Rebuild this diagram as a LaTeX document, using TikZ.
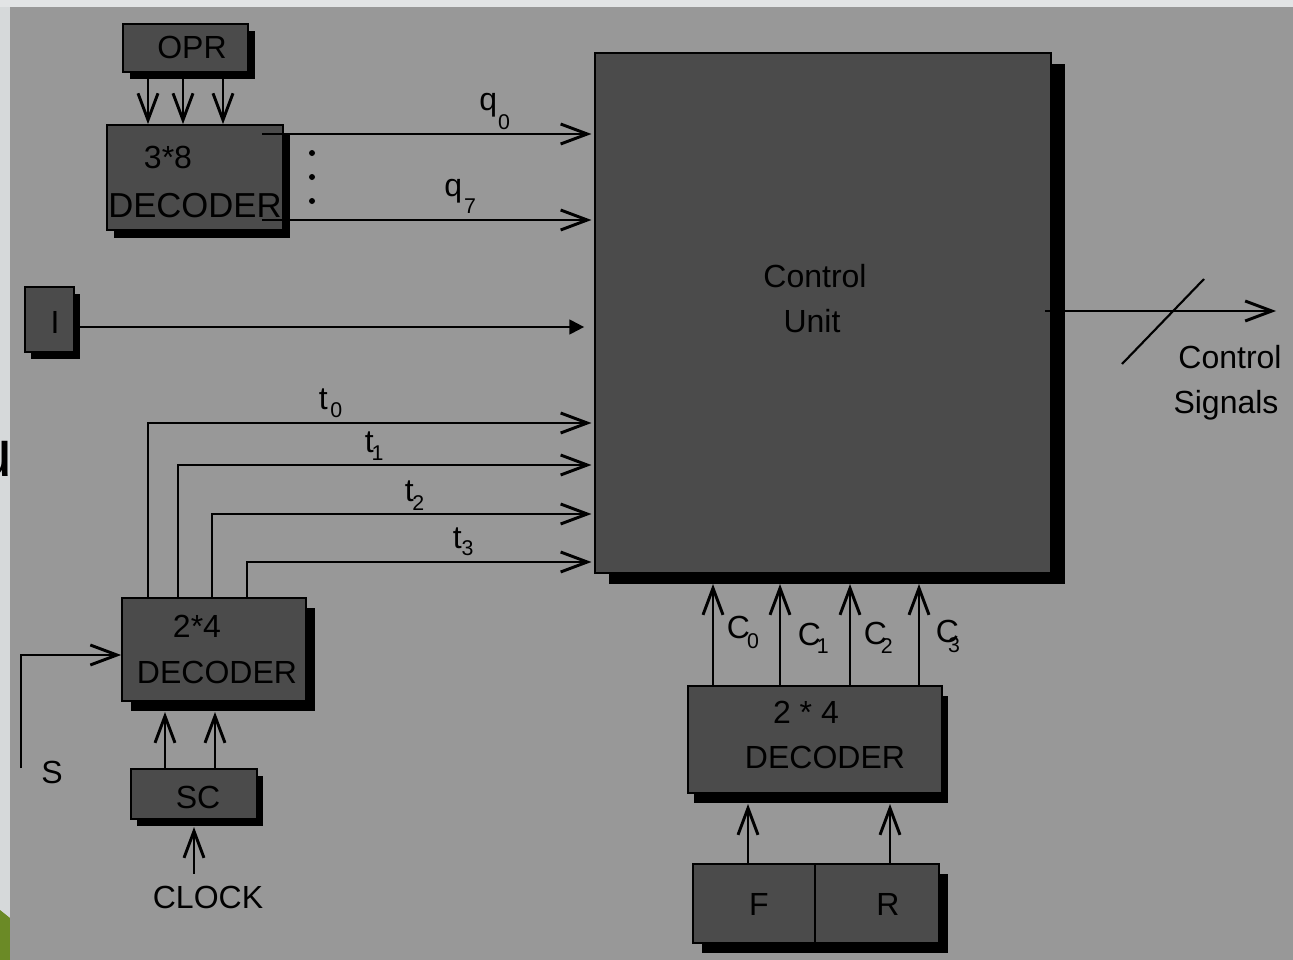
\documentclass[tikz,border=0pt]{standalone}
\usepackage{fontspec}
\setmainfont{Liberation Sans}
\usetikzlibrary{arrows.meta,shadows,fit}
\definecolor{bggray}{HTML}{989898}
\definecolor{boxgray}{HTML}{4B4B4B}
\definecolor{stripgray}{HTML}{D6D9DA}
\definecolor{topgray}{HTML}{E2E4E5}
\definecolor{leafgreen}{HTML}{6B8A26}
\newcommand\dsub[3]{\kern#2\raisebox{-#1}{\fontsize{16}{16}\selectfont #3}}
\begin{document}
\begin{tikzpicture}[x=0.75pt,y=-0.75pt,
  txt/.style={font=\fontsize{24}{28}\selectfont, inner sep=0pt, text=black},
  blk/.style={draw=black, line width=1.3pt, fill=boxgray, inner sep=0pt},
  shd/.style 2 args={drop shadow={shadow xshift=#1, shadow yshift=-#2, fill=black, opacity=1, draw=none}},
  wire/.style={line width=1.6pt, draw=black},
  barb/.style={wire, -{Straight Barb[length=20pt,width=15pt,line width=2.2pt]}},
  tri/.style={wire, -{Triangle[length=11pt,width=11pt]}},
]
\useasboundingbox (0,0) rectangle (1293,960);
% background
\fill[topgray] (0,0) rectangle (1293,960);
\fill[stripgray] (0,7) rectangle (10,960);
\fill[leafgreen] (0,910) -- (10,918) -- (10,960) -- (0,960) -- cycle;
\node[txt, font=\fontsize{50}{50}\selectfont, anchor=base east] (ufrag) at (13,476) {u};
\fill[bggray] (10,7) rectangle (1293,960);

% boxes
\node[blk, shd={5.25pt}{5.25pt}, fit={(123,24) (248,72)}] (opr) {};
\node[blk, shd={5.25pt}{6pt}, fit={(107,125) (283,230)}] (dec38) {};
\node[blk, shd={4.5pt}{5.25pt}, fit={(25,287) (74,352)}] (ibox) {};
\node[blk, shd={10.5pt}{8.25pt}, fit={(595,53) (1051,573)}] (cu) {};
\node[blk, shd={6.75pt}{7.5pt}, fit={(122,598) (306,701)}] (dec24) {};
\node[blk, shd={4.5pt}{5.25pt}, fit={(131,769) (257,819)}] (sc) {};
\node[blk, shd={4.5pt}{7.5pt}, fit={(688,686) (942,793)}] (dec24r) {};
\node[blk, shd={6.75pt}{7.5pt}, fit={(693,864) (939,943)}] (fr) {};
\coordinate (frdiv) at (815,0);
\draw[line width=1.3pt] (fr.north -| frdiv) -- (fr.south -| frdiv);

% texts
\node[txt, anchor=base] (topr) at (192,58) {OPR};
\node[txt, anchor=base] (t38) at (168,168) {3*8};
\node[txt, anchor=base west, font=\fontsize{26}{30}\selectfont] (tdec38) at (108,217) {DECODER};
\node[txt, anchor=base] (ti) at (55,333) {I};
\node[txt, anchor=base] (tcu1) at (815,287) {Control};
\node[txt, anchor=base] (tcu2) at (812,332) {Unit};
\node[txt, anchor=base] (tcs1) at (1230,368) {Control};
\node[txt, anchor=base] (tcs2) at (1226,413) {Signals};
\node[txt, anchor=base] (t24) at (197,637) {2*4};
\node[txt, anchor=base] (tdec24) at (217,683) {DECODER};
\node[txt, anchor=base] (ts) at (52,783) {S};
\node[txt, anchor=base] (tsc) at (198,808) {SC};
\node[txt, anchor=base] (tclock) at (208,908) {CLOCK};
\node[txt, anchor=base] (t24r) at (806,723) {2 * 4};
\node[txt, anchor=base] (tdec24r) at (825,768) {DECODER};
\node[txt, anchor=base] (tf) at (759,915) {F};
\node[txt, anchor=base] (tr) at (888,915) {R};

% subscripted labels
\node[txt, anchor=base west] (lq0) at (479,110) {q\dsub{14.25pt}{0.75pt}{0}};
\node[txt, anchor=base west] (lq7) at (444,196) {q\dsub{12.75pt}{1.5pt}{7}};
\node[txt, anchor=base west] (lt0) at (318.5,409) {t\dsub{6pt}{2pt}{0}};
\node[txt, anchor=base west] (lt1) at (364.5,452) {t\dsub{6pt}{-1.5pt}{1}};
\node[txt, anchor=base west] (lt2) at (404.5,501) {t\dsub{6.75pt}{-1pt}{2}};
\node[txt, anchor=base west] (lt3) at (452.5,548) {t\dsub{5.25pt}{0pt}{3}};
\node[txt, anchor=base west] (lc0) at (726.5,638) {C\dsub{7.5pt}{-2pt}{0}};
\node[txt, anchor=base west] (lc1) at (797.5,645) {C\dsub{6pt}{-3pt}{1}};
\node[txt, anchor=base west] (lc2) at (863.5,644) {C\dsub{6.75pt}{-4.5pt}{2}};
\node[txt, anchor=base west] (lc3) at (935.5,642) {C\dsub{7.5pt}{-8pt}{3}};

% OPR -> 3*8 decoder
\coordinate (ox1) at (148,0);
\coordinate (ox2) at (183,0);
\coordinate (ox3) at (223,0);
\foreach \c in {ox1,ox2,ox3} \draw[barb] (opr.south -| \c) -- (dec38.north -| \c);

% q lines
\coordinate (q0s) at (262,134);
\coordinate (q7s) at (262,220);
\draw[barb, shorten >=2pt] (q0s) -- (q0s -| cu.west);
\draw[barb, shorten >=2pt] (q7s) -- (q7s -| cu.west);
\fill (312,153) circle[radius=2.25pt];
\fill (312,177) circle[radius=2.25pt];
\fill (312,201) circle[radius=2.25pt];

% I line
\coordinate (iout) at (80,327);
\draw[tri, shorten >=7.5pt] (iout) -- (iout -| cu.west);

% t lines
\coordinate (t0c) at (148,423);
\coordinate (t1c) at (178,465);
\coordinate (t2c) at (212,514);
\coordinate (t3c) at (247,562);
\foreach \c in {t0c,t1c,t2c,t3c}
  \draw[barb, shorten >=2pt] (dec24.north -| \c) -- (\c) -- (\c -| cu.west);

% S
\coordinate (sstart) at (21,768);
\coordinate (scorner) at (21,655);
\draw[barb] (sstart) -- (scorner) -- (scorner -| dec24.west);

% SC -> decoder
\coordinate (sa1) at (165,712);
\coordinate (sa2) at (215,712);
\draw[barb] (sc.north -| sa1) -- (sa1);
\draw[barb] (sc.north -| sa2) -- (sa2);

% CLOCK -> SC
\coordinate (ck) at (194,827);
\draw[barb, shorten <=8.8pt] (tclock.north -| ck) -- (ck);

% C lines
\coordinate (c0) at (713,584);
\coordinate (c1) at (780,584);
\coordinate (c2) at (850,584);
\coordinate (c3) at (919,584);
\foreach \c in {c0,c1,c2,c3} \draw[barb] (dec24r.north -| \c) -- (\c);

% F, R -> decoder
\coordinate (fa) at (748,804);
\coordinate (ra) at (890,804);
\draw[barb] (fr.north -| fa) -- (fa);
\draw[barb] (fr.north -| ra) -- (ra);

% control signals
\coordinate (cso) at (1045,311);
\coordinate (cse) at (1276,311);
\draw[barb] (cso) -- (cse);
\coordinate (sl1) at (1122,364);
\coordinate (sl2) at (1204,279);
\draw[wire] (sl1) -- (sl2);
\end{tikzpicture}
\end{document}
